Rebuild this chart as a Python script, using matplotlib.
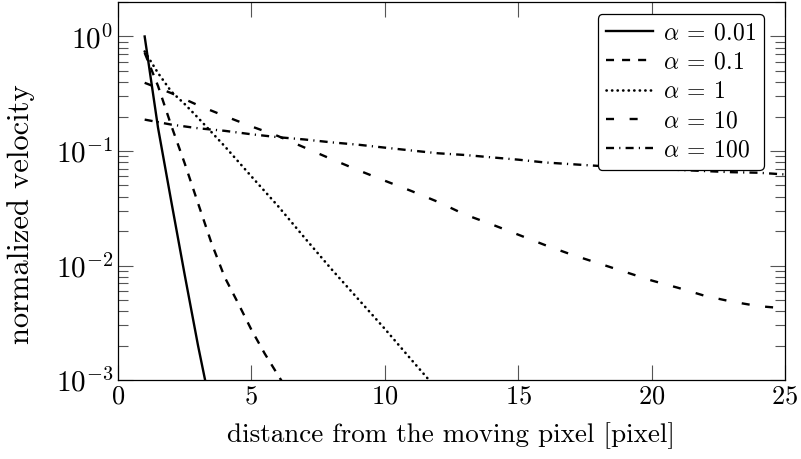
import matplotlib
matplotlib.use("Agg")
import matplotlib.pyplot as plt
import matplotlib.ticker as mticker

plt.rcParams['font.family'] = ['cmr10', 'DejaVu Serif']
plt.rcParams['mathtext.fontset'] = 'cm'
plt.rcParams['axes.formatter.use_mathtext'] = True

# velocity profiles for each alpha
x_001 = [1, 1.5, 2, 2.5, 3, 3.5]
v_001 = [1.0, 0.16, 0.036, 0.0083, 0.002, 0.00054]

x_01 = [1, 1.5, 2, 2.5, 3, 3.5, 4, 4.5, 5, 5.5, 6, 6.5]
v_01 = [0.72, 0.37, 0.166, 0.078, 0.035, 0.0158, 0.0079, 0.0047,
        0.00275, 0.0017, 0.0011, 0.00072]

x_1 = [1, 1.5, 2, 2.5, 3, 4, 5, 6, 7, 8, 9, 10, 11, 12]
v_1 = [0.74, 0.48, 0.33, 0.257, 0.195, 0.11, 0.060, 0.033, 0.0174,
       0.0093, 0.0051, 0.0028, 0.0015, 0.00081]

x_int = list(range(1, 26))
v_10 = [0.394, 0.32, 0.251, 0.202, 0.164, 0.135, 0.107, 0.085, 0.068,
        0.055, 0.0447, 0.0359, 0.0279, 0.0229, 0.0186, 0.0151, 0.01245,
        0.01047, 0.0088, 0.0074, 0.00638, 0.00543, 0.00484, 0.00442, 0.00422]
v_100 = [0.188, 0.17, 0.158, 0.15, 0.14, 0.132, 0.126, 0.119, 0.1135,
         0.107, 0.101, 0.0955, 0.0923, 0.088, 0.084, 0.0794, 0.0767,
         0.0741, 0.0716, 0.07, 0.0684, 0.0668, 0.0653, 0.0646, 0.0624]

labels = [r'$\alpha\:=\:0.01$', r'$\alpha\:=\:0.1$', r'$\alpha\:=\:1$',
          r'$\alpha\:=\:10$', r'$\alpha\:=\:100$']

fig = plt.figure(figsize=(8.01, 4.59), dpi=100)
ax = fig.add_axes([0.1473, 0.1721, 0.8327, 0.8235])

lw = 1.7
ax.plot(x_001, v_001, color='k', lw=lw, label=labels[0])
ax.plot(x_01, v_01, color='k', lw=lw, ls=(0, (3.4, 3.4)), label=labels[1])
ax.plot(x_1, v_1, color='k', lw=1.9, ls=(0, (0.1, 2.0)),
        dash_capstyle='round', label=labels[2])
ax.plot(x_int, v_10, color='k', lw=lw, ls=(0, (3.4, 6.6)), label=labels[3])
ax.plot(x_int, v_100, color='k', lw=lw, ls=(0, (3.4, 2.2, 0.5, 2.2)),
        label=labels[4])

ax.set_yscale('log')
ax.set_xlim(0, 25)
ax.set_ylim(1e-3, 2)
ax.set_xticks([0, 5, 10, 15, 20, 25])
ax.yaxis.set_major_locator(mticker.LogLocator(base=10, numticks=10))
ax.yaxis.set_minor_locator(mticker.LogLocator(base=10, subs=range(2, 10), numticks=10))
ax.yaxis.set_minor_formatter(mticker.NullFormatter())

ax.tick_params(which='both', direction='in', top=True, right=True,
               color='#555555', width=0.8, labelsize=19)
ax.tick_params(axis='y', labelsize=21)
ax.tick_params(which='major', length=11)
ax.tick_params(which='minor', length=7)
for s in ax.spines.values():
    s.set_linewidth(0.9)

ax.set_xlabel('distance from the moving pixel [pixel]', fontsize=19.5, labelpad=10)
ax.set_ylabel('normalized velocity', fontsize=22)
ax.yaxis.set_label_coords(-0.124, 0.44)

leg = ax.legend(loc='upper right', bbox_to_anchor=(0.9685, 0.968), fontsize=17,
                fancybox=True, framealpha=1, edgecolor='k', borderaxespad=0,
                handlelength=2.0, labelspacing=0.3, borderpad=0.35,
                handletextpad=0.4)
leg.get_frame().set_linewidth(0.9)

fig.savefig('out.png', dpi=100)
